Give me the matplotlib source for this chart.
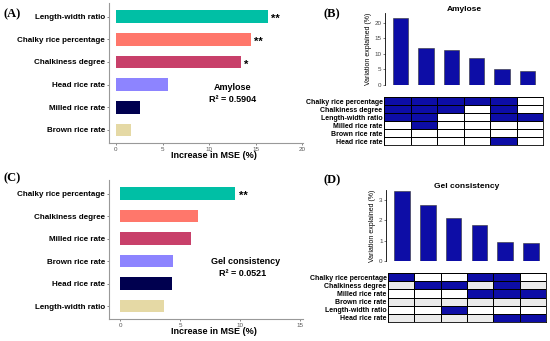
import matplotlib
matplotlib.use('Agg')
import matplotlib.pyplot as plt
import numpy as np
from matplotlib.colors import ListedColormap

plt.rcParams['font.family'] = ['Liberation Sans', 'DejaVu Sans']

W, H = 550, 341

# --- random forest importance (A, C) ---
amy_vars = ['Length-width ratio', 'Chalky rice percentage', 'Chalkiness degree',
            'Head rice rate', 'Milled rice rate', 'Brown rice rate']
amy_mse = [16.3, 14.5, 13.4, 5.6, 2.6, 1.6]
amy_sig = ['**', '**', '*', '', '', '']

gel_vars = ['Chalky rice percentage', 'Chalkiness degree', 'Milled rice rate',
            'Brown rice rate', 'Head rice rate', 'Length-width ratio']
gel_mse = [9.6, 6.5, 5.9, 4.4, 4.35, 3.7]
gel_sig = ['**', '', '', '', '', '']

bar_colors = ['#00BFA5', '#FF776B', '#C8406A', '#8D84FF', '#00004F', '#E5D9A5']

# --- variance partitioning (B, D) ---
amy_expl = [21.5, 12.0, 11.2, 8.8, 5.3, 4.5]
amy_rows = ['Chalky rice percentage', 'Chalkiness degree', 'Length-width ratio',
            'Milled rice rate', 'Brown rice rate', 'Head rice rate']
amy_sets = [[1, 1, 1, 1, 1, 0],
            [1, 1, 1, 0, 1, 0],
            [1, 1, 0, 0, 1, 1],
            [0, 1, 0, 0, 0, 0],
            [0, 0, 0, 0, 0, 0],
            [0, 0, 0, 0, 1, 0]]

gel_expl = [3.45, 2.75, 2.1, 1.78, 0.92, 0.9]
gel_rows = ['Chalky rice percentage', 'Chalkiness degree', 'Milled rice rate',
            'Brown rice rate', 'Length-width ratio', 'Head rice rate']
gel_sets = [[1, 0, 0, 1, 1, 0],
            [0, 1, 1, 0, 1, 0],
            [0, 0, 0, 1, 1, 1],
            [0, 0, 0, 0, 0, 0],
            [0, 0, 1, 0, 0, 0],
            [0, 0, 0, 0, 1, 1]]

BLUE = '#0D0DA6'


def px_axes(fig, x0, y0, x1, y1):
    return fig.add_axes([x0 / W, 1 - y1 / H, (x1 - x0) / W, (y1 - y0) / H])


def importance_panel(ax, names, vals, sig, xlim, xticks):
    y = np.arange(len(names))[::-1]
    ax.barh(y, vals, height=0.55, color=bar_colors)
    for yi, v, s in zip(y, vals, sig):
        if s:
            ax.text(v + 0.35, yi - 0.12, s, fontsize=8, fontweight='bold',
                    ha='left', va='center')
    ax.set_yticks(y)
    ax.set_yticklabels(names, fontsize=5.8, fontweight='bold')
    ax.set_ylim(-0.575, 5.6)
    ax.set_xlim(*xlim)
    ax.set_xticks(xticks)
    ax.tick_params(axis='x', labelsize=4.5, colors='#555555', length=1.5, width=0.5, pad=1.5)
    ax.tick_params(axis='y', length=1.5, width=0.5, pad=1.5, colors='#555555',
                   labelcolor='black')
    for s in ['top', 'right']:
        ax.spines[s].set_visible(False)
    for s in ['left', 'bottom']:
        ax.spines[s].set_color('#999999')
        ax.spines[s].set_linewidth(0.8)


def partition_panel(fig, box_bar, box_grid, expl, rows, sets, yticks, title, shaded):
    ax = px_axes(fig, *box_bar)
    x = np.arange(len(expl))
    ax.bar(x, expl, width=0.6, color=BLUE, edgecolor='#333333', linewidth=0.4)
    ax.set_xlim(-0.62, 5.62)
    ax.set_ylim(0, yticks[-1] * 1.16)
    ax.set_yticks(yticks)
    ax.set_xticks([])
    ax.tick_params(axis='y', labelsize=4.5, colors='#444444', length=1.5, width=0.5, pad=1)
    for s in ['top', 'right', 'bottom']:
        ax.spines[s].set_visible(False)
    ax.spines['left'].set_linewidth(0.6)
    ax.set_ylabel('Variation explained (%)', fontsize=5, labelpad=2)
    ax.set_title(title, fontsize=6, fontweight='bold', pad=1)

    g = px_axes(fig, *box_grid)
    m = np.array(sets, dtype=float) * 2
    if shaded:
        for i in range(1, len(rows), 2):
            m[i][m[i] == 0] = 1
    cmap = ListedColormap(['white', '#EBEBEB', BLUE])
    g.pcolormesh(m, cmap=cmap, vmin=0, vmax=2, edgecolors='black', linewidth=0.6)
    g.set_xlim(0, 6)
    g.set_ylim(len(rows), 0)
    g.set_xticks([])
    g.set_yticks(np.arange(len(rows)) + 0.5)
    g.set_yticklabels(rows, fontsize=5, fontweight='bold')
    g.tick_params(axis='y', length=0, pad=1)
    for s in g.spines.values():
        s.set_linewidth(0.6)


fig = plt.figure(figsize=(W / 100, H / 100), dpi=100)

# (A)
axA = px_axes(fig, 109, 3, 303, 143)
importance_panel(axA, amy_vars, amy_mse, amy_sig, (-0.75, 20.1), [0, 5, 10, 15, 20])
fig.text(214 / W, 1 - 156 / H, 'Increase in MSE (%)', fontsize=6.5, fontweight='bold',
         ha='center', va='center')
fig.text(233 / W, 1 - 87 / H, 'Amylose', fontsize=6.5, fontweight='bold', ha='center', va='center')
fig.text(233 / W, 1 - 99 / H, 'R² = 0.5904', fontsize=6.5, fontweight='bold', ha='center', va='center')

# (C)
axC = px_axes(fig, 109, 180, 303, 319)
importance_panel(axC, gel_vars, gel_mse, gel_sig, (-0.92, 15.25), [0, 5, 10, 15])
fig.text(214 / W, 1 - 332 / H, 'Increase in MSE (%)', fontsize=6.5, fontweight='bold',
         ha='center', va='center')
fig.text(246 / W, 1 - 261 / H, 'Gel consistency', fontsize=6.5, fontweight='bold', ha='center', va='center')
fig.text(243 / W, 1 - 273 / H, 'R² = 0.0521', fontsize=6.5, fontweight='bold', ha='center', va='center')

# (B) and (D)
partition_panel(fig, (385, 13, 543, 85), (384, 97, 543, 145), amy_expl, amy_rows, amy_sets,
                [0, 5, 10, 15, 20], 'Amylose', False)
partition_panel(fig, (386, 190, 547, 261), (388, 273, 546, 322), gel_expl, gel_rows, gel_sets,
                [0, 1, 2, 3], 'Gel consistency', True)

for lab, x, y in [('(A)', 4, 14), ('(B)', 323, 14), ('(C)', 4, 178), ('(D)', 323, 180)]:
    fig.text(x / W, 1 - y / H, lab, fontsize=9, fontweight='bold', family='Liberation Serif',
             ha='left', va='center')

fig.savefig('out.png', dpi=100)
